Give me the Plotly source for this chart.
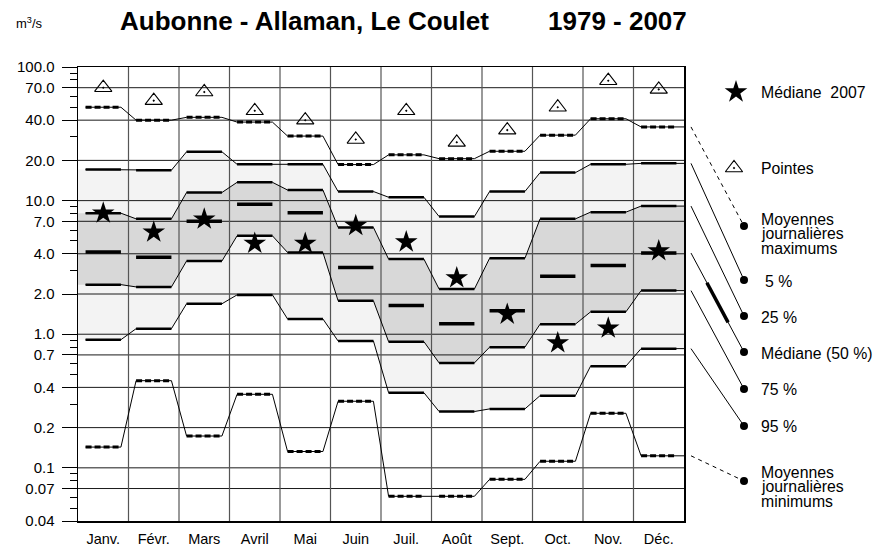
import numpy as np
import plotly.graph_objects as go

# ---------------- data (m3/s) ----------------
months = ["Janv.", "Févr.", "Mars", "Avril", "Mai", "Juin",
          "Juil.", "Août", "Sept.", "Oct.", "Nov.", "Déc."]
pointes = [70, 56, 65, 47, 40, 28.7, 47, 27.3, 33.7, 50, 79, 68]
moy_max = [50, 40, 42, 38.7, 30.4, 18.6, 22, 20.6, 23.4, 30.9, 41, 35.6]
q05 = [17.1, 16.9, 23.2, 18.7, 18.7, 11.7, 10.6, 7.6, 11.7, 16.2, 18.7, 19.0]
q25 = [8.05, 7.3, 11.5, 13.7, 12.0, 6.3, 3.65, 2.18, 3.7, 7.3, 8.2, 9.1]
q50 = [4.12, 3.76, 7.0, 9.4, 8.1, 3.16, 1.64, 1.2, 1.5, 2.71, 3.27, 4.05]
q75 = [2.35, 2.26, 3.53, 5.45, 4.09, 1.78, 0.88, 0.61, 0.8, 1.19, 1.47, 2.12]
q95 = [0.91, 1.10, 1.69, 1.97, 1.30, 0.89, 0.365, 0.264, 0.276, 0.347, 0.577, 0.78]
moy_min = [0.143, 0.449, 0.173, 0.355, 0.1325, 0.315, 0.0612, 0.0612, 0.082, 0.112, 0.256, 0.123]
med2007 = [8.05, 5.8, 7.26, 4.78, 4.78, 6.5, 4.9, 2.64, 1.41, 0.86, 1.11, 4.21]

major_vals = [0.04, 0.07, 0.1, 0.2, 0.4, 0.7, 1, 2, 4, 7, 10, 20, 40, 70, 100]
major_text = ["0.04", "0.07", "0.1", "0.2", "0.4", "0.7", "1.0", "2.0", "4.0",
              "7.0", "10.0", "20.0", "40.0", "70.0", "100.0"]
minor_vals = [0.05, 0.06, 0.08, 0.09, 0.3, 0.5, 0.6, 0.8, 0.9, 3, 5, 6, 8, 9,
              30, 50, 60, 80, 90]

# ---------------- layout geometry ----------------
W, H = 890, 549
ML, MT, MB = 78, 67, 28
PLOT_R = 684
Y_LO, Y_HI = np.log10(0.04), 2.0
FONT = "Liberation Sans, Arial, Helvetica, sans-serif"
LIGHT = "#f3f3f3"
DARK = "#d8d8d8"
PLOT_H = H - MB - MT
PAPER_W = W - ML

n = len(months)
fig = go.Figure()


def step(vals, first, last):
    xs, ys = [], []
    for i, v in enumerate(vals):
        xs += [first if i == 0 else i + 0.15, last if i == len(vals) - 1 else i + 0.85]
        ys += [v, v]
    return xs, ys


def flats(vals):
    xs, ys = [], []
    for i, v in enumerate(vals):
        xs += [i + 0.15, i + 0.85, None]
        ys += [v, v, None]
    return xs, ys


def band(upper, lower, color):
    xu, yu = step(upper, 0, n)
    xl, yl = step(lower, 0, n)
    fig.add_trace(go.Scatter(x=xu + xl[::-1], y=yu + yl[::-1], fill="toself",
                             fillcolor=color, mode="lines", line=dict(width=0),
                             hoverinfo="skip"))


band(q05, q95, LIGHT)
band(q25, q75, DARK)

# grid (drawn as traces so that it lies above the shaded bands)
gx, gy = [], []
for v in major_vals[1:-1]:
    gx += [0, n, None]
    gy += [v, v, None]
fig.add_trace(go.Scatter(x=gx, y=gy, mode="lines", line=dict(color="#1a1a1a", width=1),
                         hoverinfo="skip"))
vx, vy = [], []
for k in range(1, n):
    vx += [k, k, None]
    vy += [major_vals[0], major_vals[-1], None]
fig.add_trace(go.Scatter(x=vx, y=vy, mode="lines", line=dict(color="#555555", width=1.2),
                         hoverinfo="skip"))

# thin connecting lines
for series in [moy_max, q05, q25, q75, q95, moy_min]:
    xs, ys = step(series, 0.15, n)
    fig.add_trace(go.Scatter(x=xs, y=ys, mode="lines", line=dict(color="black", width=1),
                             hoverinfo="skip"))

# thick monthly flats
for series in [q05, q25, q75, q95]:
    xs, ys = flats(series)
    fig.add_trace(go.Scatter(x=xs, y=ys, mode="lines", line=dict(color="black", width=2.5),
                             hoverinfo="skip"))
for series in [moy_max, moy_min]:
    xs, ys = flats(series)
    fig.add_trace(go.Scatter(x=xs, y=ys, mode="lines",
                             line=dict(color="black", width=3, dash="6px,3px"),
                             hoverinfo="skip"))
xs, ys = flats(q50)
fig.add_trace(go.Scatter(x=xs, y=ys, mode="lines", line=dict(color="black", width=3.5),
                         hoverinfo="skip"))

xc = [i + 0.5 for i in range(n)]
fig.add_trace(go.Scatter(x=xc, y=pointes, mode="markers",
                         marker=dict(symbol="triangle-up-open-dot", size=15, color="black",
                                     line=dict(width=1.1, color="black")),
                         hoverinfo="skip"))
fig.add_trace(go.Scatter(x=xc, y=med2007, mode="markers",
                         marker=dict(symbol="star", size=17, color="black",
                                     line=dict(width=0)),
                         hoverinfo="skip"))

# ---------------- legend (pixel-unit overlay axes x2/y2) ----------------
def px_to_val(py):
    return 10 ** (Y_LO + (H - MB - py) / PLOT_H * (Y_HI - Y_LO))


LX0, LDOT = 691, 744
leaders = [  # (december value, dot y pixel, style)
    (moy_max[-1], 226, "dash"),
    (q05[-1], 280, "solid"),
    (q25[-1], 316, "solid"),
    (q50[-1], 352, "solid"),
    (q75[-1], 389, "solid"),
    (q95[-1], 426, "solid"),
    (moy_min[-1], 481, "dash"),
]
for v, py, style in leaders:
    fig.add_trace(go.Scatter(x=[LX0, LDOT], y=[v, px_to_val(py)], xaxis="x2", yaxis="y",
                             mode="lines",
                             line=dict(color="black", width=1,
                                       dash="4px,4px" if style == "dash" else "solid"),
                             hoverinfo="skip"))
# thick part of the median leader
v0, v1 = np.log10(q50[-1]), np.log10(px_to_val(352))
ta, tb = 0.30, 0.70
fig.add_trace(go.Scatter(x=[LX0 + ta * (LDOT - LX0), LX0 + tb * (LDOT - LX0)],
                         y=[10 ** (v0 + ta * (v1 - v0)), 10 ** (v0 + tb * (v1 - v0))],
                         xaxis="x2", yaxis="y", mode="lines",
                         line=dict(color="black", width=3.5), hoverinfo="skip"))

fig.add_trace(go.Scatter(x=[LDOT] * len(leaders), y=[p for _, p, _ in leaders],
                         xaxis="x2", yaxis="y2", mode="markers",
                         marker=dict(symbol="circle", size=8, color="black"),
                         hoverinfo="skip"))
fig.add_trace(go.Scatter(x=[736], y=[92], xaxis="x2", yaxis="y2", mode="markers",
                         marker=dict(symbol="star", size=17, color="black", line=dict(width=0)),
                         hoverinfo="skip"))
fig.add_trace(go.Scatter(x=[734], y=[168], xaxis="x2", yaxis="y2", mode="markers",
                         marker=dict(symbol="triangle-up-open-dot", size=15, color="black",
                                     line=dict(width=1.1, color="black")),
                         hoverinfo="skip"))

legend_texts = [
    ("Médiane \u00a02007", 759, 92),
    ("Pointes", 759, 168),
    ("Moyennes", 759, 219),
    ("journalières", 759, 233.5),
    ("maximums", 759, 248),
    ("5 %", 763, 281),
    ("25 %", 759, 317),
    ("Médiane (50 %)", 759, 353),
    ("75 %", 759, 389),
    ("95 %", 759, 426),
    ("Moyennes", 759, 472),
    ("journalières", 759, 486.5),
    ("minimums", 759, 501),
]
annotations = []
for t, x, y in legend_texts:
    annotations.append(dict(text=t, x=x, y=y, xref="x2", yref="y2", xanchor="left",
                            yanchor="middle", showarrow=False,
                            font=dict(family=FONT, size=15.8, color="black")))


def px_paper(x, y):
    return (x - ML) / PAPER_W, (H - MB - y) / PLOT_H


for txt, x, y, size in [("<b>Aubonne - Allaman, Le Coulet</b>", 118, 21, 26),
                        ("<b>1979 - 2007</b>", 546, 21, 26),
                        ("m<sup>3</sup>/s", 14, 23, 13)]:
    px, py = px_paper(x, y)
    annotations.append(dict(text=txt, x=px, y=py, xref="paper", yref="paper",
                            xanchor="left", yanchor="middle", showarrow=False,
                            font=dict(family=FONT, size=size, color="black")))

fig.update_layout(
    width=W, height=H,
    margin=dict(l=ML, r=0, t=MT, b=MB, pad=0, autoexpand=False),
    paper_bgcolor="white", plot_bgcolor="rgba(0,0,0,0)",
    showlegend=False,
    font=dict(family=FONT, color="black"),
    annotations=annotations,
    xaxis=dict(domain=[0, (PLOT_R - ML) / PAPER_W], range=[0, n],
               tickvals=xc, ticktext=months, ticks="", showgrid=False, zeroline=False,
               showline=True, linecolor="black", linewidth=1.5, mirror=True,
               tickfont=dict(size=14.5, family=FONT), ticklabelstandoff=4,
               fixedrange=True, automargin=False),
    yaxis=dict(type="log", range=[Y_LO, Y_HI], tickvals=major_vals, ticktext=major_text,
               ticks="outside", ticklen=15, tickwidth=1, tickcolor="black",
               showgrid=False, zeroline=False, showline=True, linecolor="black",
               linewidth=1.5, mirror=True, tickfont=dict(size=15, family=FONT),
               ticklabelstandoff=4, automargin=False,
               minor=dict(tickvals=minor_vals, ticks="outside", ticklen=7,
                          tickwidth=1, tickcolor="black", showgrid=False),
               fixedrange=True),
    xaxis2=dict(domain=[0, 1], range=[ML, W], anchor="y2", visible=False, fixedrange=True),
    yaxis2=dict(domain=[0, 1], range=[H - MB, MT], anchor="x2", visible=False,
                fixedrange=True),
)

fig.write_html("out.html",
               config={"displayModeBar": False, "staticPlot": True},
               post_script="document.body.style.margin='0px';"
                           "document.body.style.overflow='hidden';")
